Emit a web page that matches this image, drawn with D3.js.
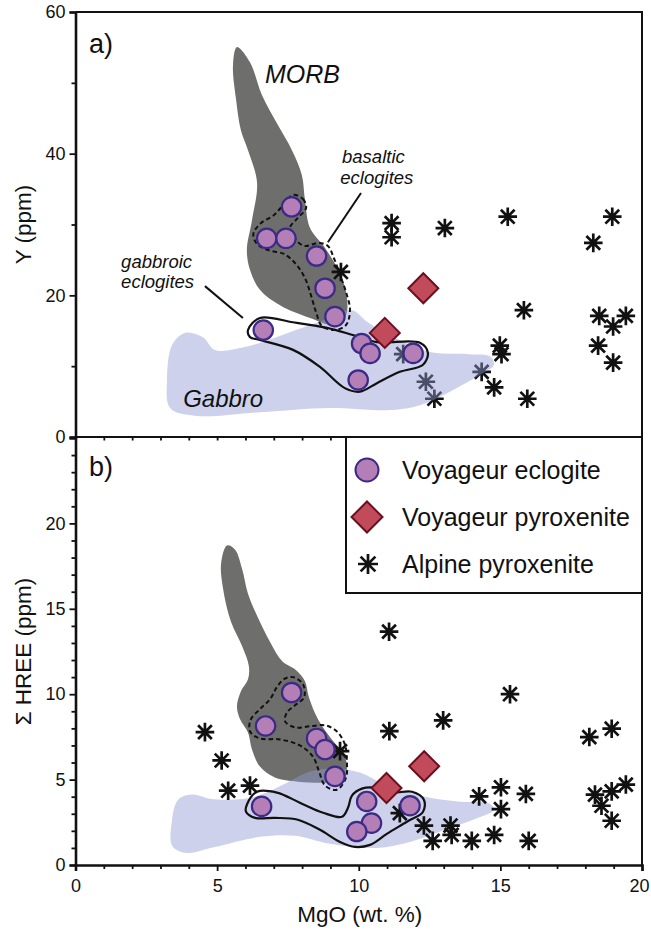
<!DOCTYPE html>
<html><head><meta charset="utf-8">
<script src="https://cdn.jsdelivr.net/npm/d3@7"></script>
<style>
body{margin:0;background:#fff;}
svg{display:block;font-family:"Liberation Sans",Arial,Helvetica,sans-serif;}
</style></head><body>
<svg id="chart" width="651" height="930"></svg>
<script>
// ---- Panel a) MgO (wt.%) vs Y (ppm) ----
const eclogiteMgO_a = [6.63, 6.75, 7.43, 7.63, 8.51, 8.81, 9.16, 9.98, 10.10, 10.40, 11.92];
const eclogiteY     = [15.1, 28.05, 28.05, 32.5, 25.55, 21.0, 17.0, 8.05, 13.2, 11.8, 11.8];
const pyroxeniteMgO_a = [12.28, 10.92];
const pyroxeniteY     = [21.0, 14.7];
const alpineMgO_a = [11.16, 11.16, 13.04, 15.26, 18.95, 18.28, 9.37, 15.83, 18.49, 19.43, 18.98,
                     18.45, 18.98, 14.98, 15.04, 11.57, 14.34, 12.37, 12.67, 14.78, 15.95];
const alpineY     = [30.2, 28.2, 29.5, 31.1, 31.1, 27.4, 23.3, 17.9, 17.1, 17.1, 15.6,
                     12.9, 10.5, 12.9, 11.7, 11.7, 9.2, 7.8, 5.4, 7.0, 5.4];

// ---- Panel b) MgO (wt.%) vs sum of HREE (ppm) ----
const eclogiteMgO_b = [7.63, 6.71, 8.51, 8.81, 9.16, 6.57, 10.28, 10.45, 9.93, 11.81];
const eclogiteHREE  = [10.1, 8.14, 7.41, 6.76, 5.19, 3.43, 3.72, 2.45, 1.96, 3.47];
const pyroxeniteMgO_b = [12.31, 10.98];
const pyroxeniteHREE  = [5.78, 4.51];
const alpineMgO_b = [4.57, 5.16, 5.39, 6.16, 15.34, 12.98, 11.08, 18.14, 18.93, 9.34, 19.43, 18.93,
                     18.34, 18.57, 18.93, 15.02, 15.02, 15.9, 14.25, 11.45, 12.3, 12.61, 13.24, 13.28,
                     13.99, 14.78, 16.0, 11.07];
const alpineHREE  = [7.78, 6.12, 4.35, 4.65, 10.0, 8.47, 7.84, 7.49, 7.98, 6.67, 4.71, 4.31,
                     4.12, 3.47, 2.59, 4.55, 3.27, 4.16, 4.02, 3.04, 2.31, 1.41, 2.31, 1.76,
                     1.41, 1.76, 1.41, 13.66];

// Field outlines, [MgO, value]
const morbFieldY = [[5.70,55.06],[6.16,52.9],[6.58,48.3],[7.15,44.0],[7.64,40.5],[7.99,37.0],[8.10,33.5],
  [8.28,29.5],[8.81,26.7],[9.27,23.6],[9.55,20.5],[9.55,17.2],[9.16,15.8],[8.28,16.8],[7.22,18.6],
  [6.51,20.8],[6.16,23.6],[6.05,26.4],[6.23,30.6],[6.41,35.9],[6.09,40.5],[5.84,43.3],[5.67,47.6],[5.56,52.5]];
const gabbroFieldY = [[3.86,14.7],[4.50,14.1],[4.92,12.3],[5.98,12.7],[7.57,14.8],[8.98,16.8],[9.76,17.9],
  [10.32,16.2],[11.28,14.0],[12.51,12.0],[13.92,11.7],[14.63,11.4],[14.77,10.2],[14.21,8.6],[13.22,6.4],
  [12.16,4.5],[11.10,3.8],[8.98,4.1],[6.51,3.5],[4.22,3.0],[3.34,4.1],[3.23,8.0],[3.41,13.0]];
const gabbroicGroupY = [[6.09,15.1],[6.51,16.8],[7.68,16.2],[8.88,15.4],[9.79,14.4],[10.64,13.4],[12.16,13.3],
  [12.44,11.9],[12.27,10.2],[11.45,9.2],[10.64,7.6],[10.04,6.4],[9.51,6.9],[8.63,9.9],[7.68,12.3],
  [6.51,13.7],[6.16,14.1]];
const basalticGroupY = [[7.68,34.17],[8.03,33.6],[8.14,32.33],[7.85,30.92],[7.57,29.51],[7.78,27.81],
  [8.10,26.97],[8.56,27.39],[8.91,26.97],[9.12,25.27],[9.34,22.87],[9.55,20.47],[9.69,17.93],[9.55,15.81],
  [9.16,15.11],[8.70,15.67],[8.49,17.65],[8.31,20.05],[8.10,22.45],[7.78,24.42],[7.36,25.84],[6.79,26.4],
  [6.40,27.3],[6.28,28.7],[6.55,30.2],[7.01,31.34],[7.36,32.9]];

const morbFieldH = [[5.35,18.71],[5.63,18.47],[5.88,17.35],[6.09,15.88],[6.41,14.59],[6.87,13.06],[7.29,11.94],
  [7.78,11.41],[8.10,10.76],[8.24,9.82],[8.56,8.53],[9.05,7.35],[9.48,6.47],[9.58,5.59],[9.41,4.88],
  [8.63,4.82],[7.85,4.88],[7.04,5.12],[6.51,5.76],[6.23,6.76],[6.09,7.76],[5.81,8.53],[5.70,9.29],
  [5.84,10.18],[6.09,10.88],[6.12,11.65],[5.88,12.82],[5.49,14.24],[5.21,16.18],[5.14,17.65]];
const gabbroFieldH = [[3.76,4.0],[4.22,4.12],[4.75,3.88],[5.45,3.82],[6.34,4.0],[7.47,4.82],[8.28,5.47],
  [9.16,5.65],[10.04,5.41],[10.92,4.71],[12.34,4.0],[13.57,3.71],[14.63,3.59],[14.77,3.24],[14.21,2.76],
  [13.04,2.06],[11.81,1.35],[10.64,1.0],[8.98,1.24],[7.75,1.71],[6.51,1.65],[4.92,1.06],[3.87,0.71],
  [3.41,1.12],[3.41,2.65],[3.55,3.65]];
const gabbroicGroupH = [[6.05,3.53],[6.41,4.29],[7.11,4.24],[7.92,3.65],[8.74,3.06],[9.41,2.82],[9.62,3.35],
  [9.76,4.06],[10.11,4.47],[10.57,4.53],[11.17,4.24],[11.88,4.29],[12.30,3.82],[12.27,3.12],[11.70,2.53],
  [10.99,1.82],[10.40,1.18],[9.87,1.06],[9.34,1.35],[8.63,2.06],[7.85,2.65],[7.04,2.76],[6.34,2.76],[6.02,3.12]];
const basalticGroupH = [[7.68,11.0],[8.03,10.59],[8.07,9.82],[7.75,9.35],[7.47,8.94],[7.40,8.41],[7.75,8.06],
  [8.28,8.12],[8.81,8.18],[9.23,7.82],[9.51,7.06],[9.58,6.06],[9.55,5.12],[9.23,4.41],[8.81,4.65],
  [8.60,5.47],[8.38,6.35],[7.92,7.0],[7.22,7.35],[6.51,7.41],[6.16,7.82],[6.19,8.53],[6.51,9.12],
  [6.87,9.71],[7.11,10.41],[7.36,10.88]];

const xTicks = [0, 5, 10, 15, 20];
const yTicksA = [0, 20, 40, 60];
const yTicksB = [0, 5, 10, 15, 20];

const legendItems = ["Voyageur eclogite", "Voyageur pyroxenite", "Alpine pyroxenite"];

// ---- layout ----
const svg = d3.select("#chart");
const X0 = 75.5, X1 = 642;
const x = d3.scaleLinear().domain([0, 20]).range([X0, X1]);
const yA = d3.scaleLinear().domain([0, 60]).range([437, 12]);
const yB = d3.scaleLinear().domain([0, 25]).range([865, 438]);

const COL = {
  morb: "#6e6f6c", gabbro: "#9099d3",
  circleFill: "#b47fb6", circleStroke: "#3b2b86",
  diamondFill: "#c24b5b", diamondStroke: "#6a0f1e"
};

function starPath(r) {
  const d = r * 0.74;
  return `M0,${-r}L0,${r}M${-r},0L${r},0M${-d},${-d}L${d},${d}M${-d},${d}L${d},${-d}`;
}
function diamondPath(h) {
  return `M0,${-h}L${h},0L0,${h}L${-h},0Z`;
}
const pairs = (xs, ys) => xs.map((v, i) => [v, ys[i]]);

function field(g, pts, y, attrs) {
  const line = d3.line().x(d => x(d[0])).y(d => y(d[1])).curve(d3.curveCatmullRomClosed.alpha(0.5));
  const p = g.append("path").attr("d", line(pts));
  Object.entries(attrs).forEach(([k, v]) => p.attr(k, v));
  return p;
}
function stars(g, pts, y, r) {
  g.selectAll(null).data(pts).enter().append("path")
    .attr("transform", d => `translate(${x(d[0])},${y(d[1])})`)
    .attr("d", starPath(r || 9.3)).attr("fill", "none")
    .attr("stroke", "#111").attr("stroke-width", 2.7).attr("stroke-linecap", "butt");
}
function circles(g, pts, y) {
  g.selectAll(null).data(pts).enter().append("circle")
    .attr("cx", d => x(d[0])).attr("cy", d => y(d[1])).attr("r", 9.7)
    .attr("fill", COL.circleFill).attr("stroke", COL.circleStroke).attr("stroke-width", 2.2);
}
function diamonds(g, pts, y) {
  g.selectAll(null).data(pts).enter().append("path")
    .attr("transform", d => `translate(${x(d[0])},${y(d[1])})`)
    .attr("d", diamondPath(15)).attr("fill", COL.diamondFill)
    .attr("stroke", COL.diamondStroke).attr("stroke-width", 2);
}

// ---- panel a ----
const gA = svg.append("g");
field(gA, morbFieldY, yA, { fill: COL.morb });
stars(gA, pairs(alpineMgO_a, alpineY), yA);
field(gA, gabbroFieldY, yA, { fill: COL.gabbro, "fill-opacity": 0.45 });
field(gA, basalticGroupY, yA, { fill: "none", stroke: "#111", "stroke-width": 2, "stroke-dasharray": "4.5,3" });
field(gA, gabbroicGroupY, yA, { fill: "none", stroke: "#111", "stroke-width": 2.2 });
circles(gA, pairs(eclogiteMgO_a, eclogiteY), yA);
diamonds(gA, pairs(pyroxeniteMgO_a, pyroxeniteY), yA);

// annotation leaders
gA.append("line").attr("x1", x(10.08)).attr("y1", yA(34.45)).attr("x2", x(8.91)).attr("y2", yA(27.5))
  .attr("stroke", "#111").attr("stroke-width", 2);
gA.append("line").attr("x1", x(4.57)).attr("y1", yA(21.3)).attr("x2", x(5.91)).attr("y2", yA(16.8))
  .attr("stroke", "#111").attr("stroke-width", 2);

const italic = (g, t, px, py, size) => g.append("text").attr("x", px).attr("y", py)
  .attr("font-size", size).attr("font-style", "italic").attr("fill", "#111").text(t);
italic(gA, "MORB", x(6.69), yA(50.0), 25);
italic(gA, "Gabbro", x(3.80), yA(4.2), 24);
italic(gA, "basaltic", x(9.41), yA(38.7), 18.5);
italic(gA, "eclogites", x(9.35), yA(35.7), 18.5);
italic(gA, "gabbroic", x(1.61), yA(23.86), 18.5);
italic(gA, "eclogites", x(1.61), yA(21.0), 18.5);

// ---- panel b ----
const gB = svg.append("g");
field(gB, morbFieldH, yB, { fill: COL.morb });
field(gB, gabbroFieldH, yB, { fill: COL.gabbro, "fill-opacity": 0.45 });
stars(gB, pairs(alpineMgO_b, alpineHREE), yB);
field(gB, basalticGroupH, yB, { fill: "none", stroke: "#111", "stroke-width": 2, "stroke-dasharray": "4.5,3" });
field(gB, gabbroicGroupH, yB, { fill: "none", stroke: "#111", "stroke-width": 2.2 });
circles(gB, pairs(eclogiteMgO_b, eclogiteHREE), yB);
diamonds(gB, pairs(pyroxeniteMgO_b, pyroxeniteHREE), yB);

// ---- frames and axes ----
const frame = svg.append("g").attr("fill", "none").attr("stroke", "#111").attr("stroke-width", 2);
frame.append("path").attr("d", `M${X0},${yA(60)}H${X1}V${yB(0)}`);
frame.append("line").attr("x1", X0).attr("x2", X1).attr("y1", yA(0)).attr("y2", yA(0));

function styleAxis(g, width) {
  g.selectAll(".domain").attr("stroke", "#111").attr("stroke-width", width);
  g.selectAll(".tick line").attr("stroke", "#111").attr("stroke-width", 1.8);
  g.selectAll("text").attr("font-size", 18).attr("fill", "#111")
    .attr("font-family", '"Liberation Sans",Arial,sans-serif');
}
// panel a y axis
const axA = svg.append("g").attr("transform", `translate(${X0},0)`)
  .call(d3.axisLeft(yA).tickValues(yTicksA).tickSize(6).tickPadding(4).tickFormat(d3.format("d")));
svg.append("g").attr("transform", `translate(${X0},0)`)
  .call(d3.axisLeft(yA).tickValues(d3.range(10, 60, 20)).tickSize(4).tickFormat(""))
  .call(g => g.select(".domain").remove()).call(g => styleAxis(g, 0));
styleAxis(axA, 2.6);
// panel b y axis
const axB = svg.append("g").attr("transform", `translate(${X0},0)`)
  .call(d3.axisLeft(yB).tickValues(yTicksB).tickSize(6).tickPadding(4).tickFormat(d3.format("d")));
svg.append("g").attr("transform", `translate(${X0},0)`)
  .call(d3.axisLeft(yB).tickValues(d3.range(1, 26).filter(v => v % 5 !== 0)).tickSize(4).tickFormat(""))
  .call(g => g.select(".domain").remove()).call(g => styleAxis(g, 0));
styleAxis(axB, 2.6);
// bottom x axis
const axX = svg.append("g").attr("transform", `translate(0,${yB(0)})`)
  .call(d3.axisBottom(x).tickValues(xTicks).tickSize(6).tickPadding(8).tickFormat(d3.format("d")));
styleAxis(axX, 2.6);
axX.selectAll(".tick text").filter(d => d === 20).attr("dx", -3);
svg.append("g").attr("transform", `translate(0,${yB(0)})`)
  .call(d3.axisBottom(x).tickValues(d3.range(1, 20).filter(v => v % 5 !== 0)).tickSize(4).tickFormat(""))
  .call(g => g.select(".domain").remove()).call(g => styleAxis(g, 0));
// x ticks along the shared border
svg.append("g").attr("transform", `translate(0,${yA(0)})`)
  .call(d3.axisBottom(x).tickValues(d3.range(1, 20)).tickSize(3.5).tickFormat(""))
  .call(g => g.select(".domain").remove()).call(g => styleAxis(g, 0));

// axis titles
svg.append("text").attr("x", (X0 + X1) / 2 + 1).attr("y", 922).attr("text-anchor", "middle")
  .attr("font-size", 22.5).attr("fill", "#111").text("MgO (wt. %)");
svg.append("text").attr("transform", `translate(31,${(yA(0) + yA(60)) / 2}) rotate(-90)`)
  .attr("text-anchor", "middle").attr("font-size", 22.5).attr("fill", "#111").text("Y (ppm)");
svg.append("text").attr("transform", `translate(31,${(yB(0) + yB(25)) / 2}) rotate(-90)`)
  .attr("text-anchor", "middle").attr("font-size", 22.5).attr("fill", "#111").text("Σ HREE (ppm)");

// panel letters
svg.append("text").attr("x", 89).attr("y", 53).attr("font-size", 27).attr("fill", "#111").text("a)");
svg.append("text").attr("x", 89).attr("y", 476).attr("font-size", 27).attr("fill", "#111").text("b)");

// ---- legend ----
const lg = svg.append("g");
lg.append("rect").attr("x", 346).attr("y", yA(0)).attr("width", X1 - 346).attr("height", 593 - yA(0))
  .attr("fill", "#fff").attr("stroke", "#111").attr("stroke-width", 2);
const rowY = [470, 517, 564];
lg.append("circle").attr("cx", 367).attr("cy", rowY[0]).attr("r", 11.5)
  .attr("fill", COL.circleFill).attr("stroke", COL.circleStroke).attr("stroke-width", 2);
lg.append("path").attr("transform", `translate(367,${rowY[1]})`).attr("d", diamondPath(15.5))
  .attr("fill", COL.diamondFill).attr("stroke", COL.diamondStroke).attr("stroke-width", 2);
lg.append("path").attr("transform", `translate(368,${rowY[2]})`).attr("d", starPath(10))
  .attr("fill", "none").attr("stroke", "#111").attr("stroke-width", 2.7);
lg.selectAll(null).data(legendItems).enter().append("text")
  .attr("x", 402).attr("y", (d, i) => rowY[i]).attr("dy", "0.35em")
  .attr("font-size", 25).attr("fill", "#111").text(d => d);
</script>
</body></html>
